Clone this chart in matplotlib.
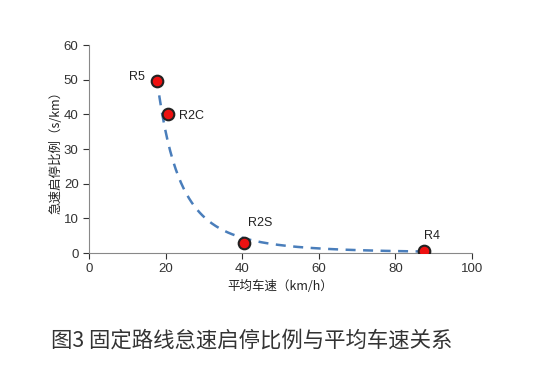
import numpy as np
import matplotlib
matplotlib.use("Agg")
from matplotlib import pyplot as plt

plt.rcParams['font.family'] = ['Liberation Sans', 'Noto Sans CJK SC', 'DejaVu Sans']

# data
routes = ["R5", "R2C", "R2S", "R4"]
speed = [17.7, 20.5, 40.5, 87.5]        # km/h
idle_ratio = [49.5, 40.0, 3.0, 0.5]     # s/km

# power trendline (least squares in log space, like the spreadsheet trendline)
b, ln_a = np.polyfit(np.log(speed), np.log(idle_ratio), 1)
xs = np.linspace(min(speed), max(speed), 200)
ys = np.exp(ln_a) * xs ** b

fig = plt.figure(figsize=(5.45, 3.67), dpi=100)
ax = fig.add_axes([89 / 545, 114 / 367, 383 / 545, 208 / 367])

ax.plot(xs, ys, linestyle=(0, (4, 3)), color="#4a7ebb", linewidth=1.8, zorder=2)
ax.scatter(speed, idle_ratio, s=70, color="#ee1111", edgecolors="#222222",
           linewidths=1.5, zorder=3)

offsets = {"R5": (-20, 3), "R2C": (8, -1), "R2S": (3, 14), "R4": (0, 11)}
for name, x, y in zip(routes, speed, idle_ratio):
    ax.annotate(name, (x, y), xytext=offsets[name], textcoords="offset points",
                fontsize=9, color="#222222", va="center")

ax.set_xlim(0, 100)
ax.set_ylim(0, 60)
ax.set_xticks(range(0, 101, 20))
ax.set_yticks(range(0, 61, 10))
ax.tick_params(labelsize=9.5, colors="#333333", length=4, width=0.8)
for side in ["top", "right"]:
    ax.spines[side].set_visible(False)
for side in ["left", "bottom"]:
    ax.spines[side].set_color("#888888")

ax.set_xlabel("平均车速（km/h）", fontsize=9, color="#222222", labelpad=3,
              family=['Noto Sans CJK SC', 'DejaVu Sans'])
ax.set_ylabel("急速启停比例（s/km）", fontsize=9, color="#222222", labelpad=1,
              family=['Noto Sans CJK SC', 'DejaVu Sans'])

fig.text(252 / 545, 26 / 367, "图3 固定路线怠速启停比例与平均车速关系", ha="center", va="center",
         fontsize=15.4, color="#333333", family=['Noto Sans CJK SC', 'DejaVu Sans'])

fig.savefig("out.png", dpi=100)
